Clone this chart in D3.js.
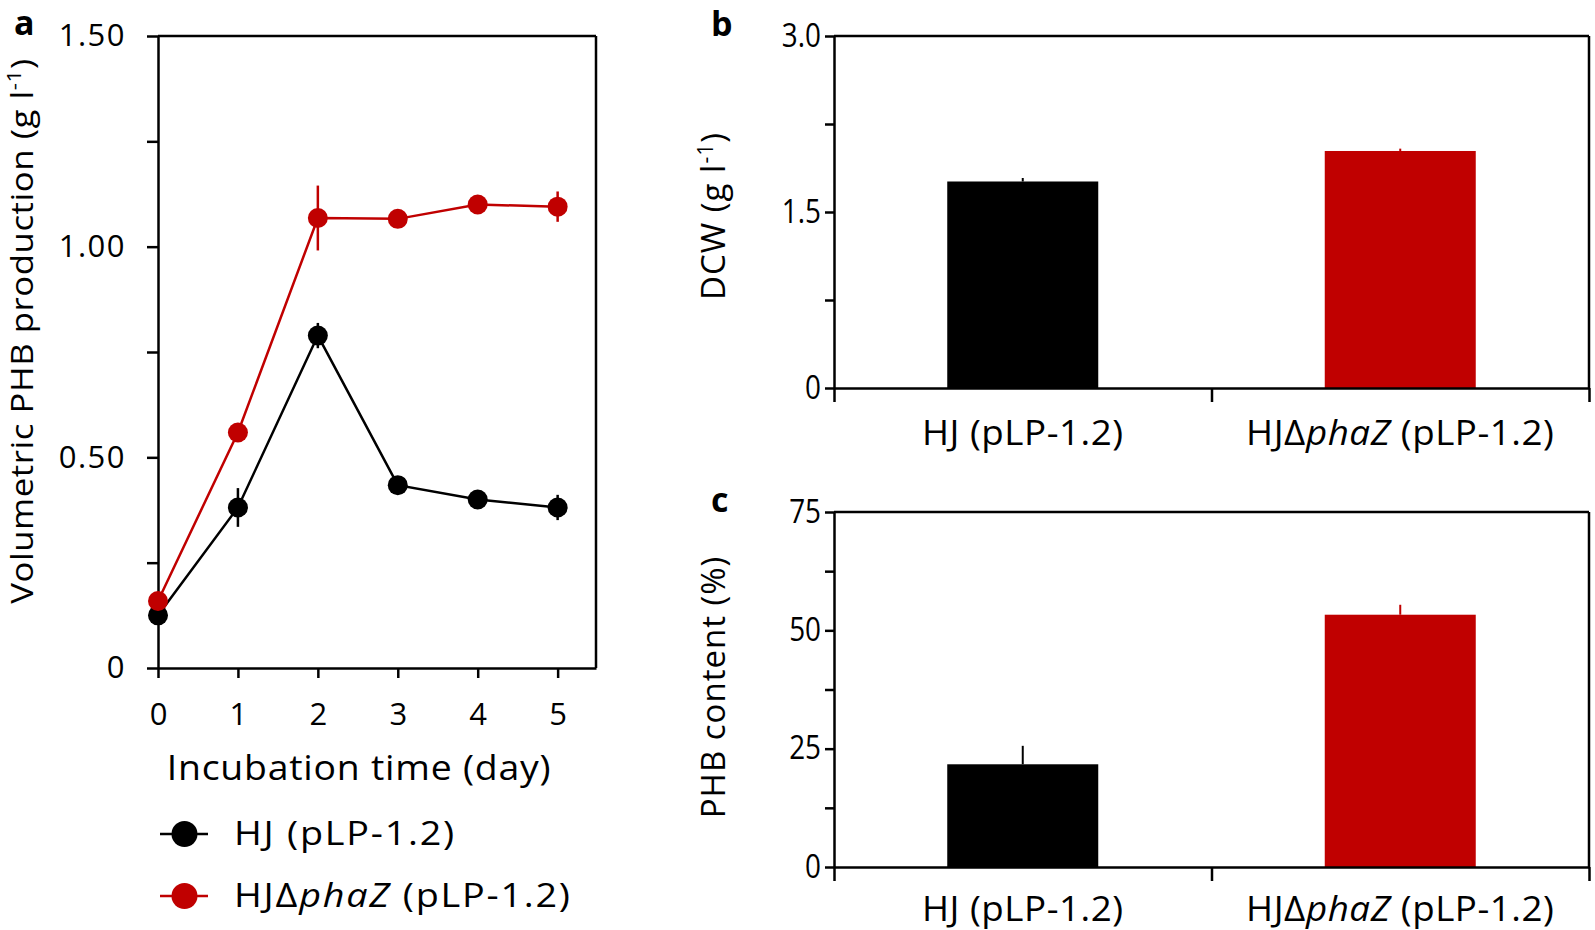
<!DOCTYPE html>
<html>
<head>
<meta charset="utf-8">
<script src="https://cdn.jsdelivr.net/npm/d3@7"></script>
<style>
  body { margin: 0; background: #fff; }
  text { font-family: "Open Sans", "Noto Sans", sans-serif; fill: #000; }
</style>
</head>
<body>
<svg id="chart" width="1595" height="930"></svg>
<script>
/* panel a: volumetric PHB over time */
var days = [0, 1, 2, 3, 4, 5];
var hjPhb = [0.125, 0.381, 0.789, 0.434, 0.400, 0.381];
var hjPhbErr = [0.01, 0.046, 0.03, 0.012, 0.012, 0.03];
var delPhb = [0.159, 0.559, 1.068, 1.066, 1.100, 1.095];
var delPhbErr = [0.01, 0.02, 0.077, 0.01, 0.01, 0.036];
var aYTicks = [0, 0.25, 0.5, 0.75, 1.0, 1.25, 1.5];
var aYLabels = ["0", "", "0.50", "", "1.00", "", "1.50"];

/* panels b and c: the two strains */
var strains = ["HJ", "HJdphaZ"];
var dcw = [1.76, 2.02];
var dcwErr = [0.03, 0.02];
var dcwTicks = [0, 0.75, 1.5, 2.25, 3.0];
var dcwLabels = ["0", "", "1.5", "", "3.0"];
var phbContent = [21.7, 53.3];
var phbContentErr = [3.9, 2.1];
var phbTicks = [0, 12.5, 25, 37.5, 50, 62.5, 75];
var phbLabels = ["0", "", "25", "", "50", "", "75"];

var seriesColors = ["#000000", "#c00000"];

var svg = d3.select("#chart");

function strainLabel(sel, i)
{
  if (i == 0) {
    sel.append("tspan").text("HJ (pLP-1.2)");
  } else {
    sel.append("tspan").text("HJ\u0394");
    sel.append("tspan").style("font-style", "italic").text("phaZ");
    sel.append("tspan").text(" (pLP-1.2)");
  }
}

function styleAxis(g, width)
{
  g.select(".domain").attr("stroke", "#000").attr("stroke-width", width);
  g.selectAll(".tick line").attr("stroke", "#000").attr("stroke-width", width);
}

/* ---------- panel a ---------- */
function drawPanelA()
{
  var x = d3.scaleLinear().domain([0, 5.48]).range([158, 596]);
  var y = d3.scaleLinear().domain([0, 1.5]).range([668, 36]);
  var g = svg.append("g");

  var yAxis = g.append("g")
    .attr("transform", "translate(" + x(0) + ",0)")
    .call(d3.axisLeft(y).tickValues(aYTicks).tickSize(11).tickSizeOuter(0)
      .tickFormat(function(d, i){ return aYLabels[i]; }));
  styleAxis(yAxis, 2.5);
  yAxis.selectAll("text").attr("x", -32).attr("font-size", 31)
    .attr("letter-spacing", 1.5).style("font-family", "Open Sans");

  var xAxis = g.append("g")
    .attr("transform", "translate(0," + y(0) + ")")
    .call(d3.axisBottom(x).tickValues(days).tickSize(10).tickSizeOuter(0).tickFormat(d3.format("d")));
  styleAxis(xAxis, 2.5);
  xAxis.selectAll("text").attr("y", 35).attr("font-size", 31).style("font-family", "Open Sans");

  // top and right frame
  g.append("line").attr("x1", x(0)).attr("x2", x(5.48)).attr("y1", y(1.5)).attr("y2", y(1.5))
    .attr("stroke", "#000").attr("stroke-width", 2.5);
  g.append("line").attr("x1", x(5.48)).attr("x2", x(5.48)).attr("y1", y(1.5)).attr("y2", y(0))
    .attr("stroke", "#000").attr("stroke-width", 2.5);

  var series = [[hjPhb, hjPhbErr], [delPhb, delPhbErr]];
  var line = d3.line().x(function(d, i){ return x(days[i]); }).y(function(d){ return y(d); });

  series.forEach(function(s, k){
    var col = seriesColors[k];
    g.append("path").datum(s[0]).attr("d", line)
      .attr("fill", "none").attr("stroke", col).attr("stroke-width", 2.5);
    g.selectAll(null).data(s[0]).enter().append("line")
      .attr("x1", function(d, i){ return x(days[i]); })
      .attr("x2", function(d, i){ return x(days[i]); })
      .attr("y1", function(d, i){ return y(d - s[1][i]); })
      .attr("y2", function(d, i){ return y(d + s[1][i]); })
      .attr("stroke", col).attr("stroke-width", 2.5);
    g.selectAll(null).data(s[0]).enter().append("circle")
      .attr("cx", function(d, i){ return x(days[i]); })
      .attr("cy", function(d){ return y(d); })
      .attr("r", 10).attr("fill", col);
  });

  g.append("text").attr("text-anchor", "middle")
    .attr("transform", "translate(359,780) scale(1.1,1)")
    .attr("font-size", 34).attr("letter-spacing", 0.7).text("Incubation time (day)");

  var yt = g.append("text").attr("transform", "translate(33,331) rotate(-90) scale(1.12,1)")
    .attr("text-anchor", "middle").attr("font-size", 31).attr("letter-spacing", 0.5);
  yt.append("tspan").text("Volumetric PHB production (g l");
  yt.append("tspan").attr("font-size", 20).attr("dy", -12).text("-1");
  yt.append("tspan").attr("dy", 12).text(")");

  // legend
  [834, 896].forEach(function(ly, k){
    var col = seriesColors[k];
    g.append("line").attr("x1", 160).attr("x2", 208).attr("y1", ly).attr("y2", ly)
      .attr("stroke", col).attr("stroke-width", 2.5);
    g.append("circle").attr("cx", 184.5).attr("cy", ly).attr("r", 13).attr("fill", col);
    var t = g.append("text").attr("transform", "translate(234," + (ly + 11) + ") scale(1.18,1)")
      .attr("font-size", 32).attr("letter-spacing", 1.5);
    strainLabel(t, k);
  });

  g.append("text").attr("x", 14).attr("y", 35).attr("font-size", 34)
    .attr("font-weight", "bold").text("a");
}

/* ---------- panels b / c ---------- */
function drawBarPanel(top, bottom, ticks, labels, values, errs, letter, titleFn, titleY, catY)
{
  var left = 834, right = 1589;
  var xb = d3.scaleBand().domain(strains).range([left, right]);
  var xs = d3.scaleLinear().domain([0, strains.length]).range([left, right]);
  var y = d3.scaleLinear().domain([0, ticks[ticks.length - 1]]).range([bottom, top]);
  var g = svg.append("g");
  var bw = xb.bandwidth() * 0.4;

  g.selectAll(null).data(values).enter().append("line")
    .attr("x1", function(d, i){ return xb(strains[i]) + xb.bandwidth() / 2; })
    .attr("x2", function(d, i){ return xb(strains[i]) + xb.bandwidth() / 2; })
    .attr("y1", function(d){ return y(d); })
    .attr("y2", function(d, i){ return y(d + errs[i]); })
    .attr("stroke", function(d, i){ return seriesColors[i]; }).attr("stroke-width", 2);

  g.selectAll(null).data(values).enter().append("rect")
    .attr("x", function(d, i){ return xb(strains[i]) + (xb.bandwidth() - bw) / 2; })
    .attr("width", bw)
    .attr("y", function(d){ return y(d); })
    .attr("height", function(d){ return y(0) - y(d); })
    .attr("fill", function(d, i){ return seriesColors[i]; });

  var yAxis = g.append("g")
    .attr("transform", "translate(" + left + ",0)")
    .call(d3.axisLeft(y).tickValues(ticks).tickSize(9).tickSizeOuter(0)
      .tickFormat(function(d, i){ return labels[i]; }));
  styleAxis(yAxis, 2.5);
  yAxis.selectAll("text").attr("x", -13 / 0.87).attr("font-size", 32)
    .attr("transform", "scale(0.87,1)");

  var xAxis = g.append("g")
    .attr("transform", "translate(0," + y(0) + ")")
    .call(d3.axisBottom(xs).tickValues([0, 1, 2]).tickSize(14).tickSizeOuter(0).tickFormat(""));
  styleAxis(xAxis, 2.5);

  g.append("line").attr("x1", left).attr("x2", right).attr("y1", top).attr("y2", top)
    .attr("stroke", "#000").attr("stroke-width", 2.5);
  g.append("line").attr("x1", right).attr("x2", right).attr("y1", top).attr("y2", bottom)
    .attr("stroke", "#000").attr("stroke-width", 2.5);

  strains.forEach(function(s, i){
    var cx = xb(s) + xb.bandwidth() / 2;
    var t = g.append("text").attr("text-anchor", "middle").attr("font-size", 34)
      .attr("letter-spacing", 0.5)
      .attr("transform", "translate(" + cx + "," + catY + ") scale(1.08,1)");
    strainLabel(t, i);
  });

  var yt = g.append("text").attr("transform", "translate(725," + titleY + ") rotate(-90)")
    .attr("text-anchor", "middle").attr("font-size", 33).attr("letter-spacing", 1.0);
  titleFn(yt);

  g.append("text").attr("x", 711).attr("y", top).attr("font-size", 34)
    .attr("font-weight", "bold").text(letter);
}

drawPanelA();
drawBarPanel(36, 388, dcwTicks, dcwLabels, dcw, dcwErr, "b", function(t){
  t.append("tspan").text("DCW (g l");
  t.append("tspan").attr("font-size", 21).attr("dy", -12).text("-1");
  t.append("tspan").attr("dy", 12).text(")");
}, 216, 445);
drawBarPanel(512, 867, phbTicks, phbLabels, phbContent, phbContentErr, "c", function(t){
  t.text("PHB content (%)");
}, 687, 921);
</script>
</body>
</html>
